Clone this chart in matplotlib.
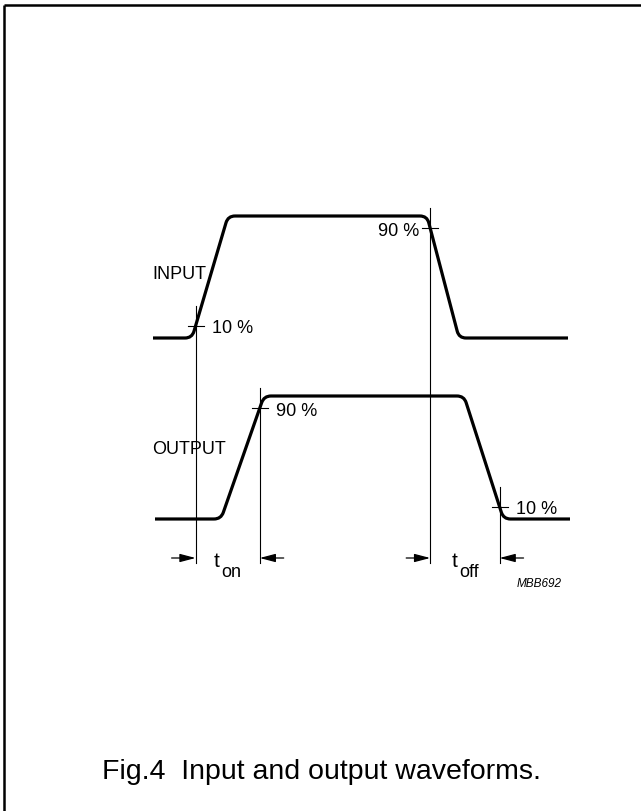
import numpy as np
import matplotlib
matplotlib.use("Agg")
import matplotlib.pyplot as plt
from matplotlib.path import Path
from matplotlib.patches import PathPatch

plt.rcParams['font.family'] = ['Liberation Sans', 'DejaVu Sans']

# waveform breakpoints: horizontal position and normalised level (0 = low, 1 = high)
input_x = [153, 192, 228, 427, 459, 568]
input_lvl = [0, 0, 1, 1, 0, 0]
output_x = [155, 221, 264, 464, 503.5, 570]
output_lvl = [0, 0, 1, 1, 0, 0]

# measuring points: (waveform, edge, level fraction, label)
marks = [("in", "rise", 0.1, "10 %"),
         ("in", "fall", 0.9, "90 %"),
         ("out", "rise", 0.9, "90 %"),
         ("out", "fall", 0.1, "10 %")]

levels = {"in": (339, 217), "out": (520, 397)}   # (low y, high y)
waves = {"in": (input_x, input_lvl), "out": (output_x, output_lvl)}

fig = plt.figure(figsize=(6.41, 8.12), dpi=100)
ax = fig.add_axes([0, 0, 1, 1])
ax.set_xlim(0, 641)
ax.set_ylim(812, 0)
ax.axis("off")

# frame (top and left edges only)
ax.plot([4, 641], [6, 6], color="black", lw=1.8, solid_capstyle="butt")
ax.plot([4, 4], [6, 812], color="black", lw=1.8, solid_capstyle="butt")


def to_y(key, lv):
    lo, hi = levels[key]
    return lo + (hi - lo) * np.asarray(lv, dtype=float)


def rounded_path(xs, ys, r=7):
    pts = np.column_stack([xs, ys]).astype(float)
    verts = [pts[0]]
    codes = [Path.MOVETO]
    for i in range(1, len(pts) - 1):
        p0, p1, p2 = pts[i - 1], pts[i], pts[i + 1]
        d1 = (p1 - p0) / np.linalg.norm(p1 - p0)
        d2 = (p2 - p1) / np.linalg.norm(p2 - p1)
        a = p1 - d1 * r
        b = p1 + d2 * r
        verts += [a, p1, b]
        codes += [Path.LINETO, Path.CURVE3, Path.CURVE3]
    verts.append(pts[-1])
    codes.append(Path.LINETO)
    return Path(verts, codes)


for key, (xs, lv) in waves.items():
    ax.add_patch(PathPatch(rounded_path(xs, to_y(key, lv)), fill=False,
                           lw=2.3, edgecolor="black", capstyle="butt",
                           joinstyle="round"))

arrow_y = 559
line_bottom = 564
mark_x = {}
for key, edge, frac, label in marks:
    xs, lv = waves[key]
    if edge == "rise":
        x = np.interp(frac, [lv[1], lv[2]], [xs[1], xs[2]])
    else:
        x = np.interp(frac, [lv[4], lv[3]], [xs[4], xs[3]])
    y = float(to_y(key, frac))
    mark_x[(key, edge)] = x
    # horizontal tick and vertical reference line
    ax.plot([x - 8, x + 8], [y, y], color="black", lw=0.8)
    ax.plot([x, x], [y - 20, line_bottom], color="black", lw=0.8)
    if key == "in" and edge == "fall":
        ax.text(x - 11, y + 2, label, ha="right", va="center", fontsize=13)
    else:
        ax.text(x + 16, y + 2, label, ha="left", va="center", fontsize=13)

ax.text(152, 275, "INPUT", ha="left", va="center", fontsize=13)
ax.text(152, 450, "OUTPUT", ha="left", va="center", fontsize=13)

# timing arrows
arrow_kw = dict(arrowstyle="-|>,head_length=0.95,head_width=0.25",
                color="black", lw=0.9, shrinkA=0, shrinkB=0,
                mutation_scale=10)
for left, right in [(mark_x[("in", "rise")], mark_x[("out", "rise")]),
                    (mark_x[("in", "fall")], mark_x[("out", "fall")])]:
    ax.annotate("", xy=(left, arrow_y), xytext=(left - 24, arrow_y),
                arrowprops=arrow_kw)
    ax.annotate("", xy=(right, arrow_y), xytext=(right + 24, arrow_y),
                arrowprops=arrow_kw)

ax.text(214, 567, "t", ha="left", va="baseline", fontsize=15)
ax.text(221, 577, "on", ha="left", va="baseline", fontsize=13)
ax.text(452, 567, "t", ha="left", va="baseline", fontsize=15)
ax.text(459, 577, "off", ha="left", va="baseline", fontsize=13)

ax.text(562, 584, "MBB692", ha="right", va="center", fontsize=8.5,
        style="italic")

ax.text(321, 772, "Fig.4  Input and output waveforms.", ha="center",
        va="center", fontsize=20.5)

fig.savefig("out.png", dpi=100)
